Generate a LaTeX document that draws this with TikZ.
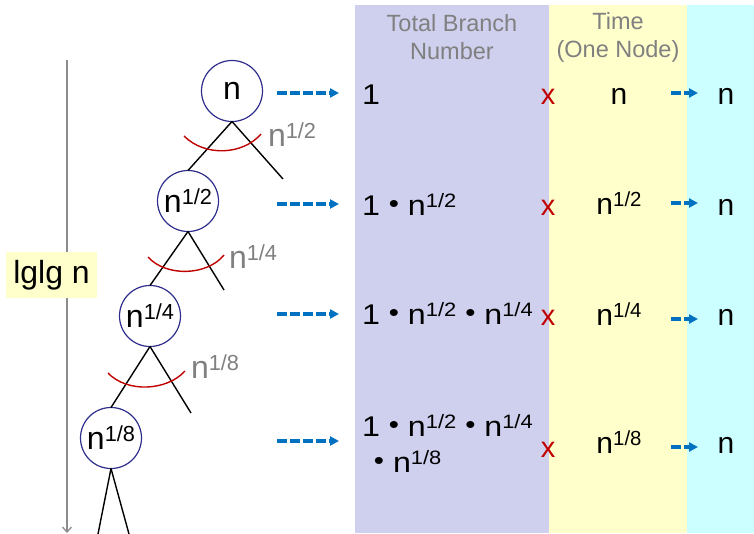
\documentclass[tikz,border=0pt]{standalone}
\usepackage{fontspec}
\setmainfont{Liberation Sans}
\usetikzlibrary{arrows.meta}
\definecolor{colpurple}{HTML}{CFCFEE}
\definecolor{colyellow}{HTML}{FFFFCC}
\definecolor{colcyan}{HTML}{CCFFFF}
\definecolor{circblue}{HTML}{2E2E8C}
\definecolor{arcred}{HTML}{C00000}
\definecolor{labgray}{HTML}{808080}
\definecolor{linegray}{HTML}{8C8C8C}
\definecolor{arrblue}{HTML}{0070C0}
\newcommand\sps[1]{\raisebox{0.25em}{\scalebox{0.68}{#1}}}
\newcommand\dotop{ \raisebox{0.1em}{\scalebox{0.9}{\textbullet}} }
\newcommand\wide[1]{\scalebox{1.13}[1]{#1}}
\begin{document}
\begin{tikzpicture}[x=1pt,y=-1pt,
  every node/.style={inner sep=0pt, outer sep=0pt},
  treenode/.style={circle, draw=circblue, line width=1.2pt, minimum size=61pt,
    font=\fontsize{32}{36}\selectfont},
  branch/.style={line width=1.4pt, black},
  cutarc/.style={line width=1.4pt, arcred},
  graylab/.style={anchor=base west, text=labgray, font=\fontsize{32}{36}\selectfont},
  rowtext/.style={anchor=base west, font=\fontsize{28.5}{34}\selectfont},
  timetext/.style={anchor=base, font=\fontsize{30}{34}\selectfont},
  xmark/.style={anchor=base, text=arcred, font=\fontsize{29}{34}\selectfont},
  header/.style={align=center, text=labgray, font=\fontsize{23.5}{28}\selectfont},
  bigarrow/.style={arrblue, line width=3.3pt, dash pattern=on 10pt off 3pt,
    -{Triangle[length=9pt,width=9pt]}},
  smallarrow/.style={arrblue, line width=3.3pt, dash pattern=on 10pt off 3pt,
    -{Triangle[length=9pt,width=9pt]}}
]
\useasboundingbox (0,0) rectangle (754,533);
% columns
\fill[colpurple] (355,5) rectangle (549,533);
\fill[colyellow] (549,5) rectangle (687,533);
\fill[colcyan] (687,5) rectangle (754,533);

% headers
\node[header] (h1) at (452,37) {Total Branch\\Number};
\node[header] (h2) at (618,37) {Time\\(One Node)};

% depth line and label
\coordinate (lt) at (67,60);
\coordinate (lb) at (67,533);
\draw[linegray, line width=1.3pt, -{Straight Barb[length=5pt,width=9pt]}] (lt) -- (lb);
\node[fill=colyellow, minimum width=91pt, minimum height=46pt,
  font=\fontsize{32}{36}\selectfont] (lglg) at (51.5,275) {lglg n};

% tree
\node[treenode] (n1) at (232,91) {n};
\node[treenode] (n2) at (188,201) {n\sps{1/2}};
\node[treenode] (n3) at (150,316) {n\sps{1/4}};
\node[treenode] (n4) at (111,438) {n\sps{1/8}};
\coordinate (r1) at (283,179);
\coordinate (r2) at (224,290);
\coordinate (r3) at (191,413);
\coordinate (b4l) at (98,534);
\coordinate (b4r) at (129,534);
\draw[branch] (n1.south) -- (n2.north);
\draw[branch] (n1.south) -- (r1);
\draw[branch] (n2.south) -- (n3.north);
\draw[branch] (n2.south) -- (r2);
\draw[branch] (n3.south) -- (n4.north);
\draw[branch] (n3.south) -- (r3);
\draw[branch] (n4.south) -- (b4l);
\draw[branch] (n4.south) -- (b4r);

% cut arcs
\draw[cutarc] (184,136) .. controls (205,157) and (243,155) .. (261,134);
\draw[cutarc] (148,257) .. controls (166,277) and (207,276) .. (224,255);
\draw[cutarc] (108,373) .. controls (127,393) and (167,391) .. (185,371);

% gray labels
\node[graylab] (g1) at (268,146) {n\sps{1/2}};
\node[graylab] (g2) at (229,268) {n\sps{1/4}};
\node[graylab] (g3) at (191,378) {n\sps{1/8}};

% big arrows
\coordinate (a1s) at (277,93);  \coordinate (a1e) at (339,93);
\coordinate (a2s) at (277,204); \coordinate (a2e) at (339,204);
\coordinate (a3s) at (277,314); \coordinate (a3e) at (339,314);
\coordinate (a4s) at (277,441); \coordinate (a4e) at (339,441);
\draw[bigarrow] (a1s) -- (a1e);
\draw[bigarrow] (a2s) -- (a2e);
\draw[bigarrow] (a3s) -- (a3e);
\draw[bigarrow] (a4s) -- (a4e);

% total branch number
\node[rowtext] (t1) at (362,104) {\wide{1}};
\node[rowtext] (t2) at (362,215) {\wide{1\dotop n\sps{1/2}}};
\node[rowtext] (t3) at (362,324) {\wide{1\dotop n\sps{1/2}\dotop n\sps{1/4}}};
\node[rowtext] (t4) at (362,436) {\wide{1\dotop n\sps{1/2}\dotop n\sps{1/4}}};
\node[rowtext] (t4b) at (365,472) {\wide{\dotop n\sps{1/8}}};

% x marks
\node[xmark] (x1) at (548,104) {x};
\node[xmark] (x2) at (548,215) {x};
\node[xmark] (x3) at (548,325) {x};
\node[xmark] (x4) at (548,457) {x};

% time
\node[timetext] (m1) at (619,104) {n};
\node[timetext] (m2) at (619,214) {n\sps{1/2}};
\node[timetext] (m3) at (619,325) {n\sps{1/4}};
\node[timetext] (m4) at (619,453) {n\sps{1/8}};

% small arrows
\coordinate (s1s) at (671,93);  \coordinate (s1e) at (698,93);
\coordinate (s2s) at (671,203); \coordinate (s2e) at (698,203);
\coordinate (s3s) at (671,319); \coordinate (s3e) at (698,319);
\coordinate (s4s) at (671,447); \coordinate (s4e) at (698,447);
\draw[smallarrow] (s1s) -- (s1e);
\draw[smallarrow] (s2s) -- (s2e);
\draw[smallarrow] (s3s) -- (s3e);
\draw[smallarrow] (s4s) -- (s4e);

% results
\node[timetext] (f1) at (726,104) {n};
\node[timetext] (f2) at (726,215) {n};
\node[timetext] (f3) at (726,325) {n};
\node[timetext] (f4) at (726,453) {n};
\end{tikzpicture}
\end{document}
